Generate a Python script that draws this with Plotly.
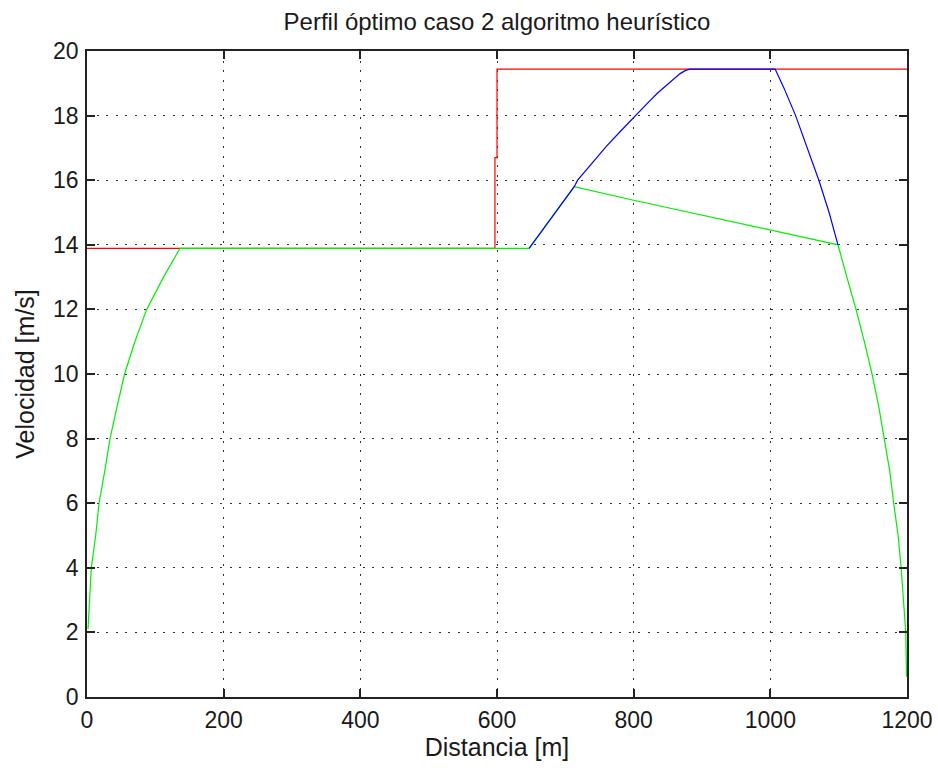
import plotly.graph_objects as go

# Speed limit (red)
limit_x = [0, 597, 597, 600, 600, 1200]
limit_v = [13.89, 13.89, 16.7, 16.7, 19.44, 19.44]

# Optimal heuristic profile (green)
green_x = [1.5, 3.4, 6.3, 12.7, 17.6, 26, 33.7, 44, 55, 70, 87.3, 112, 136,
           647, 713, 800, 868, 1000, 1060, 1099,
           1112, 1125.4, 1137.6, 1148.8, 1158.6, 1166.9, 1174.7, 1180.5,
           1187, 1191.4, 1195.2, 1198.2, 1199.3]
green_v = [2.1, 3, 4, 5, 6, 7, 8, 9, 10, 11, 12, 13, 13.89,
           13.89, 15.8, 15.38, 15.07, 14.46, 14.2, 14.0,
           13, 12, 11, 10, 9, 8, 7, 6,
           5, 4, 3, 2, 0.63]

# Maximum profile (blue)
blue_x = [647, 680, 713, 718, 740, 760, 780, 802, 820, 835, 852, 868, 876, 882,
          1007, 1020, 1037, 1054, 1071, 1086, 1099]
blue_v = [13.89, 14.85, 15.8, 16.0, 16.55, 17.05, 17.5, 18.0, 18.38, 18.7, 19.02, 19.3, 19.4, 19.44,
          19.44, 18.85, 18.0, 17.0, 16.0, 15.0, 14.0]

x_ticks = [0, 200, 400, 600, 800, 1000, 1200]
y_ticks = [0, 2, 4, 6, 8, 10, 12, 14, 16, 18, 20]

FONT = "Liberation Sans, Arial, sans-serif"
TXT = "#1a1a1a"

fig = go.Figure()
fig.add_trace(go.Scatter(x=limit_x, y=limit_v, mode="lines",
                         line=dict(color="#ff0000", width=1.2), showlegend=False))
fig.add_trace(go.Scatter(x=green_x, y=green_v, mode="lines",
                         line=dict(color="#00ee00", width=1.2), showlegend=False))
fig.add_trace(go.Scatter(x=blue_x, y=blue_v, mode="lines",
                         line=dict(color="#0000ff", width=1.2), showlegend=False))

axis_common = dict(
    showline=True, linecolor="#222222", linewidth=1.5, mirror="ticks",
    ticks="inside", ticklen=8, tickcolor="#222222", tickwidth=1.5,
    showgrid=True, gridcolor="#333333", gridwidth=1, griddash="2px,7.5px",
    zeroline=False, automargin=False, tickfont=dict(family=FONT, size=23, color=TXT),
)

fig.update_layout(
    width=938, height=771,
    paper_bgcolor="white", plot_bgcolor="white",
    margin=dict(l=87, r=31, t=51, b=74),
    title=dict(text="Perfil óptimo caso 2 algoritmo heurístico",
               x=(87 + 907) / 2 / 938, xanchor="center", y=1 - 22 / 771, yanchor="middle",
               font=dict(family=FONT, size=24, color=TXT)),
    xaxis=dict(range=[0, 1200], tickvals=x_ticks, ticktext=[str(t) for t in x_ticks],
               ticklabelstandoff=2,
               title=dict(text="Distancia [m]", font=dict(family=FONT, size=25, color=TXT), standoff=0),
               **axis_common),
    yaxis=dict(range=[0, 20], tickvals=y_ticks, ticktext=[str(t) for t in y_ticks],
               ticklabelstandoff=2,
               title=dict(text="Velocidad [m/s]", font=dict(family=FONT, size=25, color=TXT), standoff=11),
               **axis_common),
)

fig.write_html("out.html")
